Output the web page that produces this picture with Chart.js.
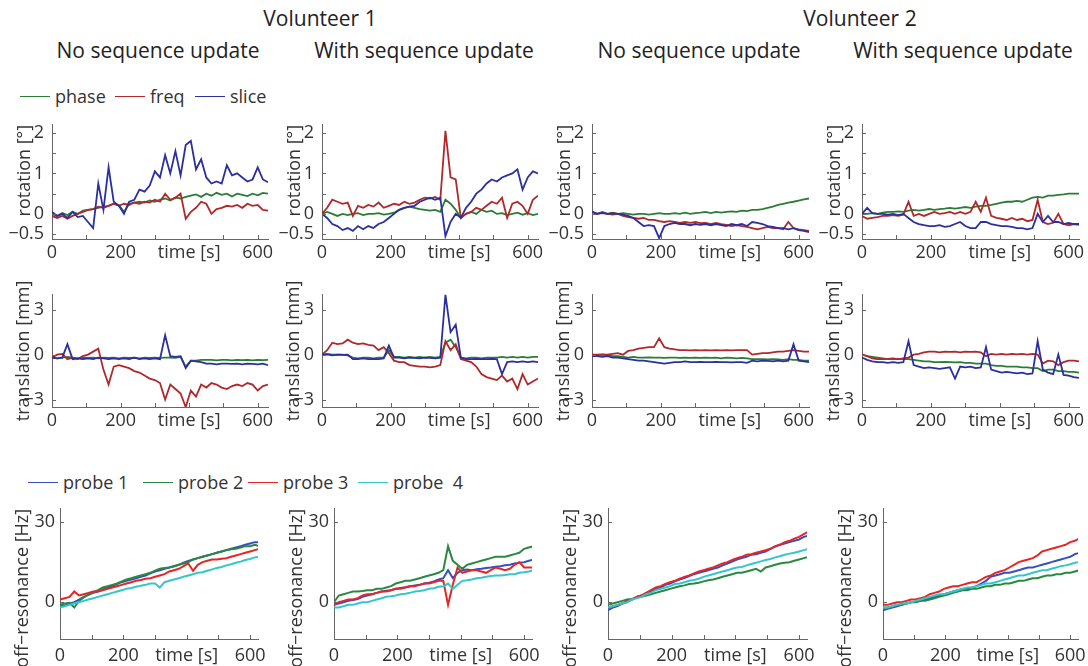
<!DOCTYPE html>
<html>
<head>
<meta charset="utf-8">
<script src="https://cdn.jsdelivr.net/npm/chart.js@4.4.1/dist/chart.umd.min.js"></script>
<style>
  body { margin: 0; background: #fff; }
  #fig { position: relative; width: 1088px; height: 666px; overflow: hidden; font-family: "Open Sans", sans-serif; color: #222; }
  .ttl { position: absolute; transform: translate(-50%, -50%); white-space: nowrap; font-size: 21px; }
  .lg { position: absolute; transform: translateY(-50%); display: flex; align-items: center; font-size: 18px; color: #333; white-space: pre; }
  .lg i { display: inline-block; width: 30px; border-top: 1.5px solid; margin-right: 5px; }
  canvas { position: absolute; }
</style>
</head>
<body>
<div id="fig">
  <div class="ttl" style="left:320px;top:18px">Volunteer 1</div>
  <div class="ttl" style="left:860px;top:18px">Volunteer 2</div>
  <div class="ttl" style="left:158px;top:50px">No sequence update</div>
  <div class="ttl" style="left:424px;top:50px">With sequence update</div>
  <div class="ttl" style="left:699px;top:50px">No sequence update</div>
  <div class="ttl" style="left:963px;top:50px">With sequence update</div>

  <div class="lg" style="left:20px;top:96px"><i style="border-color:#2b7d36"></i>phase</div>
  <div class="lg" style="left:115px;top:96px"><i style="border-color:#b0282a"></i>freq</div>
  <div class="lg" style="left:195px;top:96px"><i style="border-color:#2b2fa0"></i>slice</div>

  <div class="lg" style="left:28px;top:482px"><i style="border-color:#3550c0"></i>probe 1</div>
  <div class="lg" style="left:143px;top:482px"><i style="border-color:#2a8840"></i>probe 2</div>
  <div class="lg" style="left:248px;top:482px"><i style="border-color:#e42626"></i>probe 3</div>
  <div class="lg" style="left:358px;top:482px"><i style="border-color:#35c6cc"></i>probe  4</div>
</div>

<script>
// time samples [s]
const timeS = [0, 15, 30, 45, 60, 75, 90, 105, 120, 135,
  150, 165, 180, 195, 210, 225, 240, 255, 270, 285,
  300, 315, 330, 345, 360, 375, 390, 405, 420, 435,
  450, 465, 480, 495, 510, 525, 540, 555, 570, 585,
  600, 615, 630];

const motionNames = ['phase', 'freq', 'slice'];
const probeNames = ['probe 1', 'probe 2', 'probe 3', 'probe 4'];

const xTicks = [0, 100, 200, 300, 400, 500, 600];
const xTickLabels = ['0', '', '200', '', 'time [s]', '', '600'];
const rotTicks = [-0.5, 0, 0.5, 1, 1.5, 2];
const rotTickLabels = ['\u22120.5', '0', '', '1', '', '2'];
const traTicks = [-3, 0, 3];
const traTickLabels = ['\u22123', '0', '3'];
const offTicks = [0, 30];
const offTickLabels = ['0', '30'];

// rotation [deg], volunteer 1, no update
const rotV1NoPhase = [0, -0.05, 0.02, -0.03, 0.05, 0, 0.08, 0.1, 0.12, 0.15,
  0.18, 0.2, 0.25, 0.22, 0.05, 0.25, 0.28, 0.3, 0.28, 0.33,
  0.3, 0.35, 0.38, 0.33, 0.4, 0.38, 0.42, 0.45, 0.48, 0.42,
  0.5, 0.45, 0.52, 0.47, 0.5, 0.43, 0.5, 0.47, 0.44, 0.5,
  0.46, 0.52, 0.5];
const rotV1NoFreq = [-0.05, -0.1, -0.05, -0.12, -0.05, 0, 0.05, 0.1, 0.12, 0.18,
  0.15, 0.2, 0.25, 0.2, 0.25, 0.22, 0.28, 0.25, 0.3, 0.28,
  0.35, 0.3, 0.5, 0.35, 0.4, 0.5, -0.12, 0.05, 0.15, 0.3,
  0.25, 0, 0.12, 0.15, 0.2, 0.18, 0.22, 0.15, 0.25, 0.2,
  0.22, 0.1, 0.08];
const rotV1NoSlice = [0.05, -0.05, 0, -0.1, 0.05, -0.08, -0.05, -0.2, -0.35, 0.75,
  0.1, 1.15, 0.3, 0.2, 0, 0.3, 0.35, 0.6, 0.55, 0.7,
  1.05, 0.9, 1.45, 1.0, 1.55, 0.95, 1.7, 1.8, 1.1, 1.35,
  0.9, 0.75, 0.8, 0.75, 1.2, 0.95, 1.0, 0.9, 0.8, 0.85,
  1.15, 0.85, 0.78];

// rotation, volunteer 1, with update
const rotV1UpdPhase = [0, 0.05, 0, -0.05, 0, -0.03, 0, 0.02, -0.03, 0,
  0, 0.02, -0.02, 0, 0.03, 0.1, 0.15, 0.18, 0.15, 0.12,
  0.1, 0.08, 0.1, 0.05, 0.35, 0.25, 0.1, -0.1, 0, 0.05,
  0, 0.1, 0.05, 0.08, 0, 0.02, -0.03, 0, 0.03, -0.02,
  0.02, -0.03, 0];
const rotV1UpdFreq = [0, 0.15, 0.35, 0.3, 0.25, 0.28, -0.05, 0.2, 0.15, 0.22,
  0.18, 0.28, 0.15, 0.2, 0.25, 0.22, 0.3, 0.25, 0.28, 0.35,
  0.4, 0.38, 0.42, 0.35, 2.05, 0.9, 0.85, -0.1, 0, 0.05,
  0.15, 0.1, 0.2, 0.3, 0.25, 0.4, -0.1, 0.25, 0.3, 0.2,
  0, 0.35, 0.45];
const rotV1UpdSlice = [0, -0.1, -0.25, -0.3, -0.4, -0.35, -0.42, -0.3, -0.38, -0.3,
  -0.35, -0.25, -0.2, -0.1, 0, 0.1, 0.15, 0.18, 0.2, 0.3,
  0.35, 0.4, 0.35, 0.4, -0.55, -0.2, 0, -0.1, 0.15, 0.3,
  0.5, 0.6, 0.75, 0.85, 0.8, 0.9, 0.95, 1.0, 1.1, 0.6,
  0.9, 1.05, 1.0];

// rotation, volunteer 2, no update
const rotV2NoPhase = [0.05, 0, 0.05, 0, 0.03, 0, 0.02, 0, -0.02, 0,
  0, -0.02, 0, 0.02, 0, 0, 0.02, 0, 0.03, 0,
  0.02, 0.03, 0.05, 0.02, 0.05, 0.03, 0.05, 0.06, 0.05, 0.08,
  0.07, 0.1, 0.1, 0.12, 0.15, 0.18, 0.22, 0.25, 0.28, 0.3,
  0.33, 0.36, 0.38];
const rotV2NoFreq = [0.05, 0, 0.02, 0, -0.02, 0, -0.05, -0.08, -0.1, -0.12,
  -0.1, -0.15, -0.15, -0.18, -0.2, -0.18, -0.2, -0.22, -0.2, -0.22,
  -0.2, -0.23, -0.22, -0.25, -0.22, -0.25, -0.27, -0.3, -0.28, -0.3,
  -0.32, -0.35, -0.38, -0.35, -0.32, -0.35, -0.35, -0.38, -0.2, -0.35,
  -0.38, -0.4, -0.42];
const rotV2NoSlice = [0.05, 0, 0.03, 0, 0.02, 0, -0.02, -0.05, -0.1, -0.2,
  -0.3, -0.28, -0.3, -0.6, -0.3, -0.25, -0.22, -0.25, -0.25, -0.28,
  -0.25, -0.27, -0.25, -0.28, -0.25, -0.28, -0.3, -0.25, -0.28, -0.25,
  -0.3, -0.2, -0.22, -0.25, -0.3, -0.32, -0.35, -0.35, -0.38, -0.35,
  -0.4, -0.42, -0.45];

// rotation, volunteer 2, with update
const rotV2UpdPhase = [0, 0, 0.02, 0, 0.03, 0.05, 0.05, 0.06, 0.05, 0.08,
  0.1, 0.08, 0.1, 0.12, 0.1, 0.12, 0.13, 0.15, 0.13, 0.15,
  0.17, 0.15, 0.18, 0.2, 0.2, 0.22, 0.25, 0.28, 0.3, 0.3,
  0.32, 0.3, 0.35, 0.4, 0.42, 0.4, 0.45, 0.45, 0.47, 0.48,
  0.5, 0.5, 0.5];
const rotV2UpdFreq = [-0.05, -0.12, -0.1, -0.08, -0.05, -0.05, -0.03, -0.05, -0.02, 0.3,
  -0.05, 0, -0.05, 0, 0.05, 0, 0.02, 0.05, 0, 0.05,
  0, 0.05, 0.3, 0.05, 0.4, -0.05, -0.1, -0.12, -0.15, -0.1,
  -0.15, -0.12, -0.18, -0.15, 0.35, -0.2, -0.25, -0.22, 0, -0.25,
  -0.28, -0.25, -0.27];
const rotV2UpdSlice = [0, 0.15, 0.02, 0, 0, -0.02, 0, -0.03, 0, -0.1,
  -0.2, -0.25, -0.28, -0.3, -0.3, -0.28, -0.32, -0.3, -0.25, -0.2,
  -0.3, -0.35, -0.35, -0.2, -0.2, -0.25, -0.28, -0.3, -0.3, -0.32,
  -0.35, -0.35, -0.38, -0.35, 0, -0.2, -0.05, -0.2, -0.2, -0.25,
  -0.22, -0.25, -0.25];

// translation [mm], volunteer 1, no update
const traV1NoPhase = [-0.2, -0.25, -0.2, -0.15, -0.2, -0.25, -0.2, -0.22, -0.2, -0.25,
  -0.2, -0.22, -0.2, -0.25, -0.2, -0.22, -0.2, -0.25, -0.2, -0.22,
  -0.2, -0.22, -0.2, -0.2, -0.22, -0.15, -0.8, -0.4, -0.4, -0.35,
  -0.35, -0.35, -0.38, -0.35, -0.35, -0.38, -0.35, -0.36, -0.35, -0.38,
  -0.35, -0.36, -0.35];
const traV1NoFreq = [-0.2, 0, 0.05, -0.3, -0.2, -0.3, -0.1, 0, 0.2, 0.4,
  -1.0, -2.0, -0.8, -0.7, -0.8, -0.9, -1.1, -1.2, -1.4, -1.6,
  -1.7, -1.9, -3.0, -2.0, -2.3, -2.6, -3.5, -2.4, -2.8, -2.0,
  -2.2, -1.9, -2.0, -2.2, -2.3, -2.1, -2.0, -2.1, -1.9, -2.0,
  -2.4, -2.1, -2.0];
const traV1NoSlice = [-0.2, -0.25, -0.2, 0.7, -0.3, -0.25, -0.3, -0.25, -0.3, -0.2,
  -0.25, -0.3, -0.25, -0.3, -0.25, -0.3, -0.2, -0.3, -0.25, -0.3,
  -0.25, -0.3, 1.3, -0.1, -0.15, -0.1, -0.9, -0.4, -0.45, -0.5,
  -0.6, -0.6, -0.65, -0.6, -0.6, -0.62, -0.6, -0.65, -0.6, -0.62,
  -0.65, -0.6, -0.7];

// translation, volunteer 1, with update
const traV1UpdPhase = [0, 0.05, 0, 0, 0, -0.05, -0.2, -0.25, -0.2, -0.2,
  -0.25, -0.2, -0.2, 0.3, -0.15, -0.15, -0.2, -0.15, -0.2, -0.15,
  -0.2, -0.15, -0.2, -0.15, 0.8, 1.0, 0.5, -0.2, -0.25, -0.2,
  -0.2, -0.25, -0.2, -0.2, -0.2, -0.15, -0.2, -0.15, -0.2, -0.15,
  -0.2, -0.15, -0.15];
const traV1UpdFreq = [0, 0.3, 0.8, 0.7, 0.75, 1.0, 0.8, 0.7, 0.75, 0.65,
  0.6, 0.3, 0.5, 0.1, -0.4, -0.5, -0.5, -0.7, -0.75, -0.8,
  -0.8, -0.85, -0.8, -0.7, 0.9, 0.3, 0.7, -0.3, -0.4, -0.5,
  -0.8, -1.3, -1.5, -1.6, -1.7, -1.4, -1.8, -1.6, -2.3, -1.3,
  -2.0, -1.8, -1.6];
const traV1UpdSlice = [0, 0.02, -0.05, 0, -0.02, 0, -0.3, -0.3, -0.25, -0.3,
  -0.28, -0.3, -0.25, 0.6, -0.2, -0.2, -0.25, -0.2, -0.22, -0.25,
  -0.2, -0.22, -0.25, -0.2, 4.0, 1.5, 2.0, -0.2, -0.3, -0.3,
  -0.28, -0.3, -0.3, -0.28, -0.3, -1.3, -0.5, -0.45, -0.5, -0.45,
  -0.5, -0.45, -0.5];

// translation, volunteer 2, no update
const traV2NoPhase = [0, -0.05, 0, -0.05, -0.1, -0.1, -0.15, -0.2, -0.15, -0.2,
  -0.2, -0.18, -0.2, -0.2, -0.22, -0.2, -0.2, -0.22, -0.2, -0.22,
  -0.2, -0.22, -0.2, -0.22, -0.2, -0.25, -0.2, -0.22, -0.25, -0.22,
  -0.25, -0.3, -0.3, -0.3, -0.32, -0.3, -0.32, -0.35, -0.3, -0.35,
  -0.35, -0.4, -0.4];
const traV2NoFreq = [0, 0, 0.02, 0, 0.05, 0.1, 0, 0.25, 0.3, 0.4,
  0.45, 0.5, 0.5, 1.1, 0.5, 0.4, 0.35, 0.3, 0.3, 0.28,
  0.3, 0.28, 0.3, 0.28, 0.3, 0.28, 0.3, 0.28, 0.3, 0.3,
  0.3, 0, 0.05, 0.1, 0.1, 0.15, 0.2, 0.2, 0.25, 0.3,
  0.25, 0.2, 0.2];
const traV2NoSlice = [-0.1, -0.1, -0.15, -0.1, -0.2, -0.2, -0.25, -0.3, -0.35, -0.4,
  -0.4, -0.45, -0.5, -0.55, -0.6, -0.55, -0.5, -0.5, -0.45, -0.5,
  -0.5, -0.48, -0.5, -0.5, -0.48, -0.5, -0.5, -0.52, -0.5, -0.5,
  -0.55, -0.4, -0.45, -0.4, -0.42, -0.45, -0.4, -0.45, -0.4, 0.7,
  -0.4, -0.45, -0.5];

// translation, volunteer 2, with update
const traV2UpdPhase = [0, -0.1, -0.15, -0.2, -0.25, -0.3, -0.3, -0.3, -0.3, -0.3,
  -0.35, -0.4, -0.45, -0.45, -0.5, -0.5, -0.48, -0.5, -0.52, -0.5,
  -0.55, -0.55, -0.6, -0.6, -0.6, -0.7, -0.75, -0.75, -0.8, -0.8,
  -0.8, -0.85, -0.85, -0.9, -0.9, -1.1, -1.0, -1.0, -1.1, -1.1,
  -1.15, -1.15, -1.2];
const traV2UpdFreq = [0, -0.1, -0.25, -0.3, -0.3, -0.28, -0.25, -0.3, -0.25, -0.2,
  0, 0.05, 0.15, 0.2, 0.2, 0.15, 0.2, 0.18, 0.2, 0.15,
  0.2, 0.18, 0.2, 0.15, -0.1, 0.05, 0, 0.05, 0, 0.05,
  0.02, 0.05, 0, 0.05, 0, -0.6, -0.4, -0.45, -0.7, -0.5,
  -0.4, -0.4, -0.45];
const traV2UpdSlice = [-0.2, -0.35, -0.45, -0.5, -0.5, -0.55, -0.5, -0.55, -0.5, 0.9,
  -0.7, -0.8, -0.9, -0.85, -0.9, -0.95, -0.9, -0.85, -1.6, -0.8,
  -0.85, -0.8, -0.9, -0.85, 0.5, -1.0, -1.1, -1.2, -1.15, -1.2,
  -1.25, -1.2, -1.3, -1.25, 0.9, -1.0, -1.2, -1.3, 0, -1.35,
  -1.4, -1.5, -1.55];

// off-resonance [Hz], volunteer 1, no update
const offV1NoP1 = [-1.5, -1.2, -0.5, 0, 1.0, 2.0, 2.8, 3.5, 4.0, 4.8,
  5.5, 6.0, 6.8, 7.5, 8.0, 8.5, 9.0, 9.5, 10.0, 10.8,
  11.5, 12.0, 12.5, 13.0, 13.5, 14.0, 14.8, 15.5, 16.0, 16.5,
  17.0, 17.5, 18.0, 18.5, 19.0, 19.5, 20.0, 20.5, 21.0, 21.5,
  22.0, 22.5, 22.5];
const offV1NoP2 = [-1.0, -0.5, -0.2, -2.0, 0.5, 1.8, 2.8, 3.8, 4.5, 5.5,
  6.0, 6.5, 7.0, 7.8, 8.5, 9.0, 9.5, 10.0, 10.5, 11.0,
  11.8, 12.5, 12.8, 13.0, 13.5, 14.0, 14.5, 15.0, 16.0, 16.5,
  17.0, 17.5, 18.0, 18.5, 19.0, 19.5, 19.8, 20.0, 20.5, 21.0,
  21.0, 21.5, 21.0];
const offV1NoP3 = [1.0, 1.5, 2.0, 4.0, 2.5, 3.0, 3.5, 4.0, 4.0, 4.5,
  5.0, 5.5, 6.0, 6.5, 7.0, 7.5, 8.0, 8.3, 8.8, 9.0,
  9.5, 10.0, 10.5, 11.5, 12.0, 12.5, 13.5, 14.5, 11.8, 14.0,
  15.0, 15.5, 16.0, 16.0, 16.3, 16.5, 17.0, 17.5, 18.0, 18.5,
  19.0, 19.5, 20.0];
const offV1NoP4 = [-2.0, -1.5, -1.0, -0.5, 0, 0.5, 1.0, 1.5, 2.0, 2.5,
  3.0, 3.5, 4.0, 4.5, 5.0, 5.3, 5.8, 6.2, 6.5, 7.0,
  7.0, 5.5, 7.5, 8.0, 8.5, 9.0, 9.5, 10.0, 10.5, 11.0,
  11.2, 11.8, 12.3, 12.8, 13.2, 13.8, 14.2, 14.8, 15.2, 15.8,
  16.2, 16.8, 17.0];

// off-resonance, volunteer 1, with update
const offV1UpdP1 = [-1.0, -0.5, 0, 0.5, 0.8, 1.2, 2.0, 2.5, 3.0, 3.5,
  4.0, 4.3, 4.5, 5.0, 5.3, 5.6, 6.0, 6.3, 6.5, 7.0,
  7.3, 7.8, 8.5, 9.0, 12.0, 9.0, 11.0, 12.0, 12.2, 12.0,
  12.3, 12.5, 12.8, 13.0, 13.3, 13.5, 13.8, 14.0, 14.5, 14.8,
  15.0, 15.5, 16.0];
const offV1UpdP2 = [0, 2.5, 3.0, 3.5, 4.0, 4.0, 4.2, 4.5, 4.5, 5.0,
  5.0, 5.5, 6.0, 7.0, 7.5, 8.0, 8.0, 8.5, 9.0, 9.5,
  10.0, 10.5, 11.0, 12.0, 21.0, 15.5, 14.0, 12.5, 14.0, 14.5,
  15.0, 15.5, 16.0, 16.5, 17.0, 17.0, 17.0, 17.5, 18.0, 18.5,
  20.0, 20.5, 21.0];
const offV1UpdP3 = [-1.0, 0, 0.5, 1.0, 1.0, 1.5, 2.5, 3.0, 3.0, 3.5,
  4.0, 4.0, 4.5, 5.0, 5.0, 5.5, 6.0, 6.0, 6.5, 7.0,
  7.0, 7.5, 8.0, 8.0, -1.0, 6.5, 13.0, 11.0, 11.5, 12.0,
  12.0, 11.5, 11.0, 12.0, 13.0, 12.5, 12.0, 12.5, 14.0, 15.0,
  13.0, 13.0, 13.0];
const offV1UpdP4 = [-2.0, -2.0, -1.5, -1.0, -1.0, -0.5, 0, 0, 0.5, 1.0,
  1.5, 2.0, 2.2, 2.5, 3.0, 3.2, 3.5, 4.0, 4.2, 4.5,
  5.0, 5.2, 5.8, 6.0, 7.0, 5.0, 6.5, 8.0, 8.2, 8.5,
  9.0, 9.2, 9.5, 9.8, 10.0, 10.0, 10.2, 10.5, 10.5, 11.0,
  11.2, 11.5, 12.0];

// off-resonance, volunteer 2, no update
const offV2NoP1 = [-3.0, -2.0, -1.5, -0.5, 0, 1.0, 2.0, 2.5, 3.5, 4.0,
  5.0, 5.5, 6.5, 7.0, 7.8, 8.5, 9.0, 9.8, 10.5, 11.0,
  11.5, 12.0, 12.5, 13.0, 13.8, 14.5, 15.2, 16.0, 16.5, 17.0,
  17.8, 18.0, 18.5, 19.0, 20.0, 20.8, 21.5, 22.0, 22.5, 23.0,
  23.5, 24.5, 25.0];
const offV2NoP2 = [-1.0, -0.5, 0, 0.5, 1.0, 1.2, 1.8, 2.0, 2.5, 3.0,
  3.5, 4.0, 4.5, 5.0, 5.5, 6.0, 6.3, 6.8, 7.0, 7.3,
  7.8, 8.2, 8.5, 9.0, 9.5, 10.0, 10.5, 11.0, 11.0, 11.5,
  12.0, 12.5, 11.5, 13.0, 13.5, 14.0, 14.5, 14.8, 15.0, 15.5,
  16.0, 16.5, 17.0];
const offV2NoP3 = [-2.0, -1.5, -1.0, -0.5, 0.5, 1.0, 2.0, 2.5, 3.5, 4.5,
  5.5, 6.0, 6.8, 7.5, 8.0, 8.8, 9.5, 10.0, 10.8, 11.5,
  12.0, 12.5, 13.0, 13.8, 14.5, 15.0, 15.8, 16.5, 17.0, 17.8,
  18.0, 18.5, 19.0, 19.5, 20.0, 21.0, 21.5, 22.5, 23.0, 23.8,
  24.5, 25.5, 26.5];
const offV2NoP4 = [-2.0, -1.5, -1.0, -0.5, 0, 1.0, 1.5, 2.0, 3.0, 3.5,
  4.5, 5.0, 5.5, 6.0, 6.8, 7.0, 7.5, 8.0, 8.3, 8.8,
  9.5, 10.0, 10.5, 11.0, 11.5, 12.0, 12.5, 13.0, 13.2, 13.8,
  14.3, 14.8, 15.3, 15.8, 16.2, 16.8, 17.2, 17.8, 18.2, 18.5,
  19.0, 19.5, 20.0];

// off-resonance, volunteer 2, with update
const offV2UpdP1 = [-3.0, -2.5, -2.0, -1.5, -1.0, -0.5, 0, 0.2, 0.5, 1.0,
  1.5, 2.0, 2.5, 3.0, 3.5, 4.0, 4.5, 5.0, 5.0, 5.5,
  6.0, 7.0, 8.0, 9.5, 10.0, 10.5, 11.0, 11.0, 11.5, 12.0,
  12.5, 13.0, 13.0, 13.5, 14.0, 14.5, 15.0, 15.5, 16.0, 16.5,
  17.0, 18.0, 18.5];
const offV2UpdP2 = [-2.0, -2.0, -1.5, -1.0, -1.0, -0.5, 0, 0, 0.5, 0.5,
  1.0, 1.5, 2.0, 2.5, 3.0, 3.5, 4.0, 4.5, 4.5, 5.0,
  5.0, 5.5, 6.0, 6.0, 6.5, 6.5, 7.0, 7.0, 7.5, 8.0,
  8.0, 8.5, 9.0, 9.0, 9.5, 10.0, 10.0, 10.5, 10.5, 11.0,
  11.0, 11.5, 12.0];
const offV2UpdP3 = [-1.0, -1.0, -0.5, 0, 0, 0.5, 1.0, 1.0, 1.5, 2.0,
  3.0, 3.5, 4.0, 5.0, 5.5, 6.0, 6.0, 6.5, 7.0, 7.5,
  7.5, 8.5, 9.5, 10.0, 11.0, 11.5, 12.0, 13.0, 14.0, 15.0,
  15.5, 16.0, 16.5, 17.5, 19.0, 19.5, 20.0, 20.5, 21.0, 21.5,
  22.5, 23.0, 24.0];
const offV2UpdP4 = [-2.0, -2.0, -1.5, -1.0, -0.5, -0.5, 0, 0.5, 1.0, 1.5,
  2.0, 2.5, 3.0, 3.0, 3.5, 4.0, 4.5, 5.0, 5.5, 5.5,
  6.0, 6.5, 7.0, 7.0, 7.5, 8.0, 8.5, 9.0, 9.5, 10.0,
  10.0, 10.5, 11.0, 11.5, 12.0, 12.0, 12.5, 13.0, 13.5, 13.8,
  14.2, 14.8, 15.0];

const motionColors = ['#2b7d36', '#b0282a', '#2b2fa0'];
const probeColors = ['#3550c0', '#2a8840', '#e42626', '#35c6cc'];

Chart.defaults.font.family = '"Open Sans", sans-serif';
Chart.defaults.font.size = 18;
Chart.defaults.color = '#333';

// small inward tick marks, like the original figure
const inTicks = {
  id: 'inTicks',
  afterDraw(chart) {
    const { ctx, chartArea: a, scales: { x, y } } = chart;
    ctx.save();
    ctx.strokeStyle = '#666';
    ctx.lineWidth = 1;
    ctx.beginPath();
    x.ticks.forEach(tk => {
      const px = Math.round(x.getPixelForValue(tk.value)) + 0.5;
      ctx.moveTo(px, a.bottom); ctx.lineTo(px, a.bottom - 4);
    });
    y.ticks.forEach(tk => {
      const py = Math.round(y.getPixelForValue(tk.value)) + 0.5;
      ctx.moveTo(a.left, py); ctx.lineTo(a.left + 4, py);
    });
    ctx.stroke();
    ctx.restore();
  }
};

const fig = document.getElementById('fig');
const YW = 50, PT = 14, PR = 22, XH = 40;

function addPanel(box, yr, yTicks, yLabels, yTitle, titleGap, titleAlign, yPad, xPad, xMax, names, colors, series, lw) {
  const [l, t, r, b] = box;
  const cv = document.createElement('canvas');
  cv.width = r - l + YW + PR;
  cv.height = b - t + PT + XH;
  cv.style.left = (l - YW) + 'px';
  cv.style.top = (t - PT) + 'px';
  fig.appendChild(cv);

  new Chart(cv, {
    type: 'line',
    data: {
      datasets: series.map((s, i) => ({
        label: names[i],
        data: s.map((v, k) => ({ x: timeS[k], y: v })),
        borderColor: colors[i],
        borderWidth: lw,
        pointRadius: 0,
        tension: 0,
        order: series.length - i
      }))
    },
    options: {
      responsive: false,
      animation: false,
      events: [],
      layout: { padding: { top: PT, right: PR, left: 0, bottom: 0 } },
      plugins: { legend: { display: false }, tooltip: { enabled: false } },
      scales: {
        x: {
          type: 'linear', min: 0, max: xMax,
          grid: { display: false, drawTicks: false, tickLength: 0 },
          border: { display: true, color: '#666', width: 1 },
          afterBuildTicks: s => { s.ticks = xTicks.map(v => ({ value: v })); },
          ticks: { autoSkip: false, maxRotation: 0, padding: xPad, callback: (v, i) => xTickLabels[i] },
          afterFit: s => { s.height = XH; }
        },
        y: {
          min: yr[0], max: yr[1],
          grid: { display: false, drawTicks: false, tickLength: 0 },
          border: { display: true, color: '#666', width: 1 },
          afterBuildTicks: s => { s.ticks = yTicks.map(v => ({ value: v })); },
          ticks: { autoSkip: false, padding: yPad, callback: (v, i) => yLabels[i] },
          title: { display: true, text: yTitle, color: '#333', font: { size: 18 }, align: titleAlign,
                   padding: { top: YW - titleGap - 10.8, bottom: 0 } },
          afterFit: s => { s.width = YW; }
        }
      }
    },
    plugins: [inTicks]
  });
}

const rotRange = [-0.62, 2.2];
const traRange = [-3.5, 4.0];
const offRange = [-13.8, 35];
const rotTitle = 'rotation [°]';
const traTitle = 'translation [mm]';
const offTitle = 'off\u2212resonance [Hz]';

addPanel([52, 120, 268, 239], rotRange, rotTicks, rotTickLabels, rotTitle, 27, 'end', 8, 3, 630, motionNames, motionColors, [rotV1NoPhase, rotV1NoFreq, rotV1NoSlice], 1.8);
addPanel([322, 120, 538, 239], rotRange, rotTicks, rotTickLabels, rotTitle, 27, 'end', 8, 3, 630, motionNames, motionColors, [rotV1UpdPhase, rotV1UpdFreq, rotV1UpdSlice], 1.8);
addPanel([592, 120, 809, 239], rotRange, rotTicks, rotTickLabels, rotTitle, 27, 'end', 8, 3, 630, motionNames, motionColors, [rotV2NoPhase, rotV2NoFreq, rotV2NoSlice], 1.8);
addPanel([862, 120, 1079, 239], rotRange, rotTicks, rotTickLabels, rotTitle, 27, 'end', 8, 3, 630, motionNames, motionColors, [rotV2UpdPhase, rotV2UpdFreq, rotV2UpdSlice], 1.8);

addPanel([52, 290, 268, 407], traRange, traTicks, traTickLabels, traTitle, 28, 'center', 8, 3, 630, motionNames, motionColors, [traV1NoPhase, traV1NoFreq, traV1NoSlice], 1.8);
addPanel([322, 290, 538, 407], traRange, traTicks, traTickLabels, traTitle, 28, 'center', 8, 3, 630, motionNames, motionColors, [traV1UpdPhase, traV1UpdFreq, traV1UpdSlice], 1.8);
addPanel([592, 290, 809, 407], traRange, traTicks, traTickLabels, traTitle, 28, 'center', 8, 3, 630, motionNames, motionColors, [traV2NoPhase, traV2NoFreq, traV2NoSlice], 1.8);
addPanel([862, 290, 1079, 407], traRange, traTicks, traTickLabels, traTitle, 28, 'center', 8, 3, 630, motionNames, motionColors, [traV2UpdPhase, traV2UpdFreq, traV2UpdSlice], 1.8);

addPanel([60, 507, 258, 639], offRange, offTicks, offTickLabels, offTitle, 37, 'end', 5, 6, 625, probeNames, probeColors, [offV1NoP1, offV1NoP2, offV1NoP3, offV1NoP4], 2);
addPanel([334, 507, 532, 639], offRange, offTicks, offTickLabels, offTitle, 37, 'end', 5, 6, 625, probeNames, probeColors, [offV1UpdP1, offV1UpdP2, offV1UpdP3, offV1UpdP4], 2);
addPanel([608, 507, 807, 639], offRange, offTicks, offTickLabels, offTitle, 37, 'end', 5, 6, 625, probeNames, probeColors, [offV2NoP1, offV2NoP2, offV2NoP3, offV2NoP4], 2);
addPanel([883, 507, 1078, 639], offRange, offTicks, offTickLabels, offTitle, 37, 'end', 5, 6, 625, probeNames, probeColors, [offV2UpdP1, offV2UpdP2, offV2UpdP3, offV2UpdP4], 2);
</script>
</body>
</html>
